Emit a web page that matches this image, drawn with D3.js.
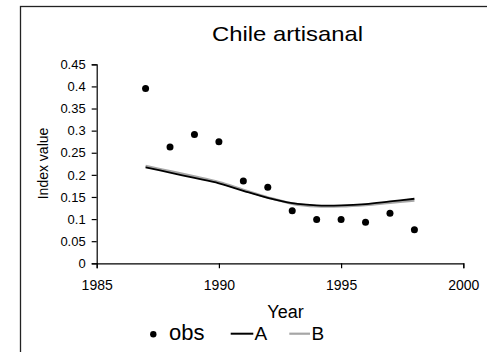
<!DOCTYPE html>
<html>
<head>
<meta charset="utf-8">
<script src="https://cdn.jsdelivr.net/npm/d3@7"></script>
<style>
  html, body { margin: 0; padding: 0; background: #fff; }
  svg { display: block; font-family: "Liberation Sans", Arial, sans-serif; }
</style>
</head>
<body>
<svg id="chart" width="487" height="352"></svg>
<script>
// Chile artisanal: observed index and two model fits
const years = [1987, 1988, 1989, 1990, 1991, 1992, 1993, 1994, 1995, 1996, 1997, 1998];
const obs   = [0.395, 0.263, 0.291, 0.275, 0.186, 0.172, 0.119, 0.099, 0.099, 0.093, 0.113, 0.076];
const fitA  = [0.217, 0.205, 0.193, 0.181, 0.164, 0.148, 0.136, 0.131, 0.131, 0.134, 0.140, 0.146];
const fitB  = [0.220, 0.208, 0.196, 0.183, 0.166, 0.149, 0.135, 0.129, 0.129, 0.132, 0.137, 0.142];
const xTicks = [1985, 1990, 1995, 2000];
const yTicks = [0, 0.05, 0.1, 0.15, 0.2, 0.25, 0.3, 0.35, 0.4, 0.45];

const svg = d3.select("#chart");

// outer frame
svg.append("rect")
  .attr("x", 20.5).attr("y", 6.5)
  .attr("width", 500).attr("height", 400)
  .attr("fill", "none").attr("stroke", "#222").attr("stroke-width", 1.3);

const plot = { left: 96.7, right: 463.3, top: 64.3, bottom: 263.3 };

const x = d3.scaleLinear().domain([1985, 2000]).range([plot.left, plot.right]);
const y = d3.scaleLinear().domain([0, 0.45]).range([plot.bottom, plot.top]);

// title
svg.append("text")
  .attr("x", 287.5).attr("y", 40.7)
  .attr("text-anchor", "middle")
  .attr("font-size", 21)
  .attr("textLength", 151).attr("lengthAdjust", "spacingAndGlyphs")
  .attr("fill", "#000")
  .text("Chile artisanal");

// y axis
const yAxis = svg.append("g")
  .attr("transform", `translate(${plot.left},0)`)
  .call(d3.axisLeft(y).tickValues(yTicks).tickSize(5).tickPadding(6)
    .tickFormat(d => d3.format("")(+d.toFixed(2))));
yAxis.select(".domain").attr("stroke", "#000").attr("stroke-width", 1.2);
yAxis.selectAll(".tick line").attr("stroke", "#000").attr("stroke-width", 1.2);
yAxis.selectAll(".tick text")
  .attr("font-size", 13)
  .attr("font-family", "Liberation Sans, Arial, sans-serif")
  .attr("fill", "#000");

// x axis
const xAxis = svg.append("g")
  .attr("transform", `translate(0,${plot.bottom})`)
  .call(d3.axisBottom(x).tickValues(xTicks).tickSize(5).tickPadding(12)
    .tickFormat(d3.format("d")));
xAxis.select(".domain").attr("stroke", "#000").attr("stroke-width", 1.2);
xAxis.selectAll(".tick line").attr("stroke", "#000").attr("stroke-width", 1.2);
xAxis.selectAll(".tick text")
  .attr("font-size", 14)
  .attr("font-family", "Liberation Sans, Arial, sans-serif")
  .attr("fill", "#000");

// axis titles
svg.append("text")
  .attr("transform", "translate(47.5,163.5) rotate(-90)")
  .attr("text-anchor", "middle")
  .attr("font-size", 14)
  .attr("fill", "#000")
  .text("Index value");

svg.append("text")
  .attr("x", 285.5).attr("y", 317.5)
  .attr("text-anchor", "middle")
  .attr("font-size", 18)
  .attr("fill", "#000")
  .text("Year");

// fitted lines
const line = d3.line()
  .x((d, i) => x(years[i]))
  .y(d => y(d))
  .curve(d3.curveCardinal.tension(0));

svg.append("path")
  .datum(fitB)
  .attr("d", line)
  .attr("fill", "none")
  .attr("stroke", "#a6a6a6")
  .attr("stroke-width", 2.6);

svg.append("path")
  .datum(fitA)
  .attr("d", line)
  .attr("fill", "none")
  .attr("stroke", "#000")
  .attr("stroke-width", 1.8);

// observed points
svg.append("g")
  .selectAll("circle")
  .data(obs)
  .join("circle")
  .attr("cx", (d, i) => x(years[i]))
  .attr("cy", d => y(d))
  .attr("r", 3.5)
  .attr("fill", "#000");

// legend
const legend = svg.append("g");
legend.append("circle")
  .attr("cx", 153.3).attr("cy", 334.3).attr("r", 3.2).attr("fill", "#000");
legend.append("text")
  .attr("x", 169).attr("y", 339.5)
  .attr("font-size", 22).attr("fill", "#000")
  .text("obs");
legend.append("line")
  .attr("x1", 230.7).attr("x2", 253.3).attr("y1", 333.7).attr("y2", 333.7)
  .attr("stroke", "#000").attr("stroke-width", 2);
legend.append("text")
  .attr("x", 254.5).attr("y", 339.5)
  .attr("font-size", 19).attr("fill", "#000")
  .text("A");
legend.append("line")
  .attr("x1", 289.3).attr("x2", 310).attr("y1", 333.7).attr("y2", 333.7)
  .attr("stroke", "#a6a6a6").attr("stroke-width", 2.2);
legend.append("text")
  .attr("x", 311.5).attr("y", 339.5)
  .attr("font-size", 19).attr("fill", "#000")
  .text("B");
</script>
</body>
</html>
